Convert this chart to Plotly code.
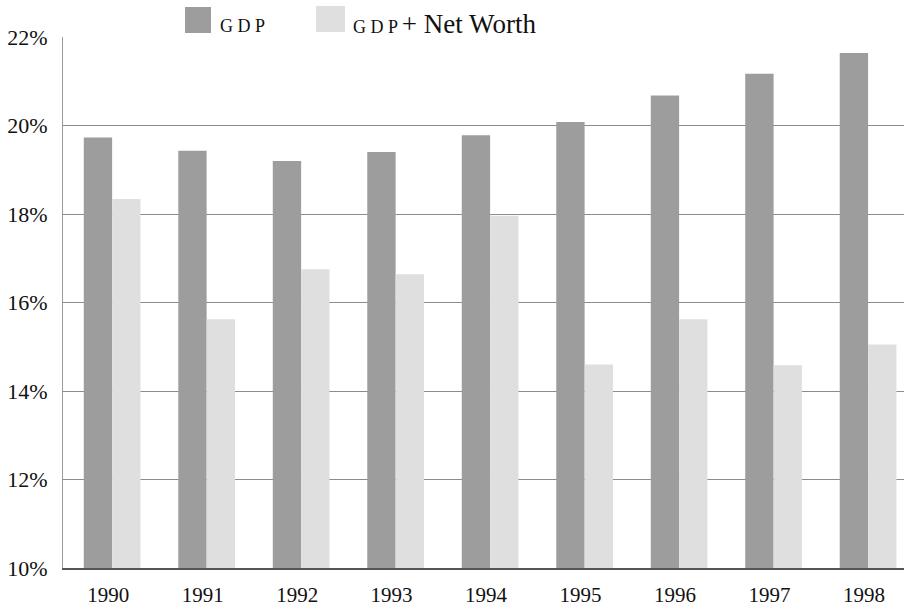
import plotly.graph_objects as go

years = ["1990", "1991", "1992", "1993", "1994", "1995", "1996", "1997", "1998"]
gdp = [19.73, 19.43, 19.20, 19.40, 19.78, 20.08, 20.68, 21.17, 21.64]
gdp_net_worth = [18.34, 15.62, 16.75, 16.64, 17.96, 14.60, 15.62, 14.58, 15.05]
y_ticks = [10, 12, 14, 16, 18, 20, 22]
y_tick_labels = ["10%", "12%", "14%", "16%", "18%", "20%", "22%"]

DARK = "#9d9d9d"
LIGHT = "#dfdfdf"
SERIF = "Liberation Serif, DejaVu Serif, serif"

fig = go.Figure()
fig.add_trace(go.Bar(x=list(range(len(years))), y=gdp, name="GDP",
                     marker=dict(color=DARK, line=dict(width=0)), showlegend=False))
fig.add_trace(go.Bar(x=list(range(len(years))), y=gdp_net_worth, name="GDP + Net Worth",
                     marker=dict(color=LIGHT, line=dict(width=0)), showlegend=False))

fig.update_layout(
    width=904, height=610,
    margin=dict(l=63, r=0, t=37, b=42, pad=0),
    paper_bgcolor="white", plot_bgcolor="white",
    barmode="group", bargap=0.4, bargroupgap=0,
    font=dict(family=SERIF, size=20, color="#111"),
    xaxis=dict(
        range=[-0.52, 8.38],
        tickmode="array", tickvals=list(range(len(years))), ticktext=years,
        showgrid=False, zeroline=False,
        showline=True, linecolor="#555", linewidth=1.5,
        ticks="", ticklabelstandoff=7, ticklabelshift=-4,
        tickfont=dict(family=SERIF, size=21, color="#111"),
    ),
    yaxis=dict(
        range=[10, 22],
        tickmode="array", tickvals=y_ticks, ticktext=y_tick_labels,
        showgrid=True, gridcolor="#8c8c8c", gridwidth=1,
        zeroline=False,
        showline=True, linecolor="#9a9a9a", linewidth=1,
        ticks="", ticklabelstandoff=10,
        tickfont=dict(family=SERIF, size=22, color="#111"),
    ),
)

# legend drawn at top
fig.add_shape(type="rect", xref="paper", yref="paper",
              x0=(185 - 63) / 841, x1=(211 - 63) / 841,
              y0=(568 - 33) / 531, y1=(568 - 7) / 531,
              fillcolor=DARK, line=dict(width=0), layer="above")
fig.add_shape(type="rect", xref="paper", yref="paper",
              x0=(316 - 63) / 841, x1=(345 - 63) / 841,
              y0=(568 - 32) / 531, y1=(568 - 6) / 531,
              fillcolor=LIGHT, line=dict(width=0), layer="above")
fig.add_annotation(xref="paper", yref="paper",
                   x=(218 - 63) / 841, y=(568 - 38) / 531,
                   xanchor="left", yanchor="bottom", showarrow=False,
                   text="G D P", font=dict(family=SERIF, size=18, color="#111"))
fig.add_annotation(xref="paper", yref="paper",
                   x=(351 - 63) / 841, y=(568 - 41) / 531,
                   xanchor="left", yanchor="bottom", showarrow=False,
                   text="G D P <span style='font-size:27px;font-family:Liberation Serif'>+ Net Worth</span>",
                   font=dict(family=SERIF, size=18, color="#111"))

fig.write_html("out.html")
